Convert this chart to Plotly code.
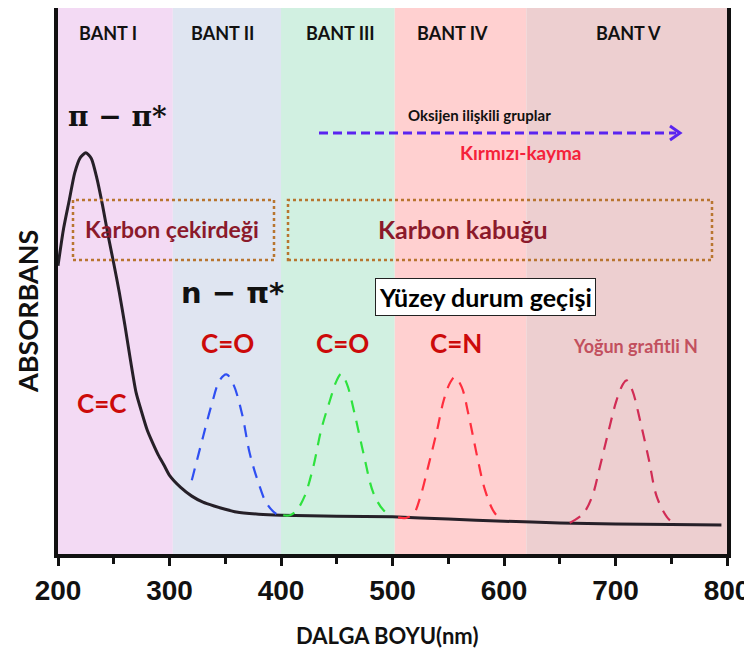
import plotly.graph_objects as go

# ---------------- data ----------------
band_names = ["BANT I", "BANT II", "BANT III", "BANT IV", "BANT V"]
band_edges = [200, 303, 400, 502, 620, 800]
band_colors = ["#F3DAF4", "#DFE5F1", "#D1F0E1", "#FFD0D0", "#EDCFD0"]

main_x = [200, 205, 210, 215, 220, 225, 230, 235, 240, 245, 250, 255, 260, 265, 270,
          275, 280, 285, 290, 295, 300, 310, 320, 330, 340, 350, 360, 380, 400, 450,
          500, 550, 600, 650, 700, 750, 795]
main_y = [0.528, 0.596, 0.647, 0.698, 0.726, 0.735, 0.724, 0.687, 0.638, 0.583, 0.532,
          0.479, 0.419, 0.355, 0.296, 0.260, 0.227, 0.203, 0.181, 0.163, 0.144, 0.122,
          0.106, 0.095, 0.088, 0.082, 0.077, 0.073, 0.071, 0.069, 0.068, 0.064, 0.060,
          0.057, 0.055, 0.054, 0.053]

blue_x = [320, 330, 338, 345, 351, 357, 365, 372, 380, 387, 396, 400]
blue_y = [0.135, 0.214, 0.275, 0.318, 0.329, 0.312, 0.257, 0.184, 0.129, 0.093, 0.073, 0.071]

green_x = [402, 408, 414, 421, 429, 436, 444, 450, 454, 459, 466, 474, 483, 492, 499]
green_y = [0.071, 0.071, 0.080, 0.105, 0.160, 0.227, 0.282, 0.318, 0.330, 0.312, 0.257,
           0.184, 0.111, 0.080, 0.070]

red_x = [505, 512, 519, 525, 532, 540, 546, 552, 556, 562, 568, 576, 583, 591, 598]
red_y = [0.067, 0.066, 0.074, 0.105, 0.160, 0.227, 0.282, 0.315, 0.324, 0.306, 0.257,
         0.178, 0.117, 0.077, 0.062]

crim_x = [659, 671, 679, 686, 694, 701, 707, 710, 715, 722, 730, 737, 746, 752]
crim_y = [0.057, 0.074, 0.105, 0.160, 0.227, 0.282, 0.312, 0.318, 0.300, 0.245, 0.172,
          0.105, 0.068, 0.056]

tick_vals = [200, 300, 400, 500, 600, 700, 800]

# ---------------- geometry helpers (reference pixel -> coords) ----------------
OFF = 8                      # default page body margin
W, H = 752 - OFF, 652 - OFF
RX0, RX1 = 58, 727           # reference x pixels of 200 and 800
RY0, RY1 = 554, 8            # reference y pixels of bottom and top of plot


def X(px):
    return 200 + (px - RX0) * 600 / (RX1 - RX0)


def XP(px):
    return (px - RX0) / (RX1 - RX0)


def Y(py):
    return (RY0 - py) / (RY0 - RY1)


fig = go.Figure()

fig.add_trace(go.Scatter(x=main_x, y=main_y, mode="lines",
                         line=dict(color="#262028", width=3, shape="spline", smoothing=0.6),
                         showlegend=False, hoverinfo="skip"))
for xs, ys, col in [(blue_x, blue_y, "#2F4FF2"), (green_x, green_y, "#2EE23E"),
                    (red_x, red_y, "#FF2E3E"), (crim_x, crim_y, "#D12C55")]:
    fig.add_trace(go.Scatter(x=xs, y=ys, mode="lines",
                             line=dict(color=col, width=2.2, dash="12px,9px", shape="spline"),
                             showlegend=False, hoverinfo="skip"))

shapes = []
for i in range(len(band_names)):
    shapes.append(dict(type="rect", xref="x", yref="paper", x0=band_edges[i], x1=band_edges[i + 1],
                       y0=0, y1=1, fillcolor=band_colors[i], line=dict(width=0), layer="below"))

# dotted boxes
box_col = "#B8752F"
shapes.append(dict(type="rect", xref="x", yref="paper", x0=X(73), x1=X(274), y0=Y(260), y1=Y(200),
                   line=dict(color=box_col, width=2.5, dash="dot")))
shapes.append(dict(type="rect", xref="x", yref="paper", x0=X(288), x1=X(712), y0=Y(260), y1=Y(200),
                   line=dict(color=box_col, width=2.5, dash="dot")))
# dashed arrow
arr_col = "#5A24F0"
shapes.append(dict(type="line", xref="x", yref="paper", x0=X(319), x1=X(676), y0=Y(133), y1=Y(133),
                   line=dict(color=arr_col, width=3, dash="9px,5px")))
shapes.append(dict(type="path", xref="x", yref="paper",
                   path=f"M {X(670)},{Y(126)} L {X(680)},{Y(133)} L {X(670)},{Y(140)}",
                   line=dict(color=arr_col, width=3)))

ann = []
F = "Lato"


def txt(px, py, text, size, color, family=F, **kw):
    ann.append(dict(x=X(px), y=Y(py), xref="x", yref="paper", text=text, showarrow=False,
                    xanchor="center", yanchor="middle",
                    font=dict(family=family, size=size, color=color), **kw))


for i, name in enumerate(band_names):
    cx = [108, 222, 340, 452, 628][i]
    txt(cx, 33, f"<b>{name}</b>", 18, "#111111")

txt(117, 117, "<b>π − π*</b>", 28, "#111111", family="DejaVu Serif")
txt(232, 293, "<b>n − π*</b>", 29, "#111111", family="DejaVu Sans")
txt(172, 229, "<b>Karbon çekirdeği</b>", 23, "#8B1A2B")
txt(462, 229, "<b>Karbon kabuğu</b>", 25, "#8B1A2B")
txt(485, 297, "<b>Yüzey durum geçişi</b>", 25, "#000000",
    bgcolor="#FFFFFF", bordercolor="#222222", borderwidth=1, borderpad=3)
txt(227, 343, "<b>C=O</b>", 26, "#CC0A0A")
txt(342, 343, "<b>C=O</b>", 26, "#CC0A0A")
txt(456, 343, "<b>C=N</b>", 26, "#CC0A0A")
txt(101, 403, "<b>C=C</b>", 26, "#CC0A0A")
txt(635, 346, "<b>Yoğun grafitli N</b>", 18, "#C2505E")
txt(479, 115, "<b>Oksijen ilişkili gruplar</b>", 15, "#111111")
txt(520, 153, "<b>Kırmızı-kayma</b>", 19, "#F5213A")
txt(387, 635, "<b>DALGA BOYU(nm)</b>", 22, "#111111")

ann.append(dict(x=XP(27), y=Y(312), xref="paper", yref="paper", xanchor="center",
                yanchor="middle", text="<b>ABSORBANS</b>", showarrow=False, textangle=-90,
                font=dict(family=F, size=27, color="#111111")))

fig.update_layout(
    width=W, height=H,
    margin=dict(l=RX0 - OFF, r=752 - RX1, t=RY1 - OFF, b=652 - RY0, autoexpand=False),
    paper_bgcolor="white", plot_bgcolor="white",
    shapes=shapes, annotations=ann, showlegend=False,
    xaxis=dict(range=[200, 800], tickvals=tick_vals, ticks="outside", ticklen=8, tickwidth=3,
               tickcolor="#111111", showgrid=False, zeroline=False, automargin=False,
               showline=True, linecolor="#111111", linewidth=4, mirror=True,
               tickfont=dict(family="Liberation Sans", size=28, color="#111111", weight="bold"),
               minor=dict(dtick=50, ticks="outside", ticklen=6, tickwidth=3, tickcolor="#111111")),
    yaxis=dict(range=[0, 1], showticklabels=False, ticks="", showgrid=False, zeroline=False,
               automargin=False,
               showline=True, linecolor="#111111", linewidth=4, mirror=True),
)

fig.write_html("out.html")
